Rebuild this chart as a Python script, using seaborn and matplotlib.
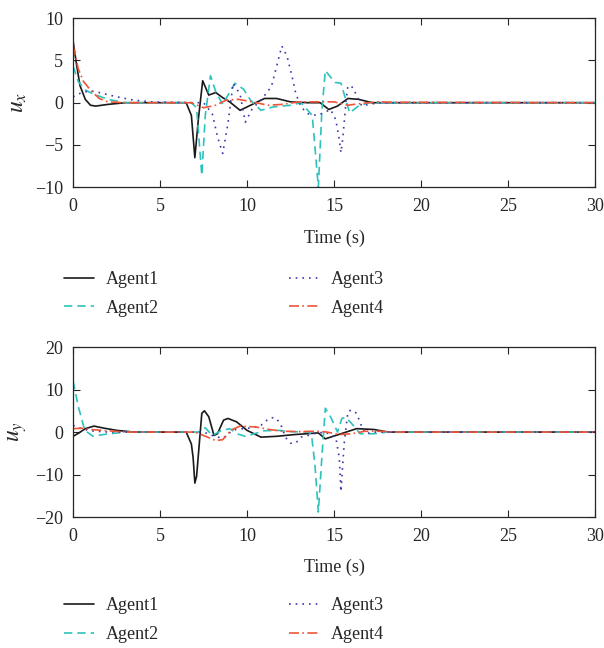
import matplotlib; matplotlib.use('Agg')
import numpy as np
import seaborn as sns
import matplotlib.pyplot as plt

# ---- u_x panel ----
ux_t1 = [0, 0.2, 0.4, 0.7, 1.0, 1.3, 2.0, 3.0, 6.5, 6.8, 7.0, 7.2, 7.45, 7.8, 8.2, 8.6, 9.0, 9.6,
         10.2, 11.0, 11.7, 12.5, 13.5, 14.2, 14.7, 15.2, 15.8, 16.4, 17.2, 30]
ux_v1 = [7.3, 4.5, 2.0, 0.4, -0.3, -0.4, -0.2, 0, 0, -1.5, -6.5, -2.0, 2.6, 0.9, 1.2, 0.6, 0.1, -0.9,
         -0.3, 0.5, 0.5, 0.1, 0, 0, -0.8, -0.4, 0.5, 0.4, 0, 0]

ux_t2 = [0, 0.3, 0.7, 1.2, 2.0, 3.0, 6.8, 7.1, 7.4, 7.6, 7.9, 8.2, 8.6, 9.3, 9.8, 10.2, 10.8, 11.5,
         12.5, 13.1, 13.75, 14.1, 14.3, 14.5, 15.05, 15.4, 15.9, 16.4, 17.0, 30]
ux_v2 = [4.3, 2.5, 1.5, 1.0, 0.4, 0, 0, -0.6, -8.6, -1.5, 3.2, 1.3, -0.2, 2.3, 1.6, 0.3, -0.9, -0.5,
         -0.3, 0, -1.5, -10, -1.0, 3.8, 2.4, 2.3, -1.2, -0.4, 0, 0]

ux_t3 = [0, 0.5, 1.0, 1.5, 2.5, 3.5, 4.5, 7.0, 7.5, 8.0, 8.3, 8.6, 8.9, 9.2, 9.6, 9.9, 10.3, 10.8,
         11.4, 11.7, 12.0, 12.3, 12.6, 12.8, 13.1, 13.5, 14.0, 14.4, 14.8, 15.1, 15.3, 15.4, 15.5,
         15.6, 15.7, 15.8, 16.1, 16.3, 16.6, 17.0, 17.6, 30]
ux_v3 = [0.7, 1.2, 1.4, 1.2, 0.7, 0.3, 0.1, 0, 0, -1.3, -4.0, -6.0, -2.5, 2.3, 1.0, -2.3, -0.7, 0.3,
         1.9, 4.3, 6.7, 5.5, 3.0, 1.1, -0.5, -1.3, -1.5, -1.2, -0.8, -2.0, -4.3, -5.9, -4.3,
         -2.0, 0.4, 2.0, 1.8, 0.8, -0.4, -0.2, 0, 0]

ux_t4 = [0, 0.3, 0.6, 1.0, 1.5, 2.0, 3.0, 6.8, 7.5, 8.2, 8.8, 9.5, 10.3, 11.2, 12.0, 13.0, 14.0,
         15.0, 15.8, 16.5, 17.5, 18.5, 30]
ux_v4 = [6.8, 4.0, 2.5, 1.5, 0.5, 0.1, 0, 0, -0.6, -0.3, 0.3, 0.4, 0.1, -0.3, -0.2, 0.1, 0.1,
         0.1, -0.3, -0.1, 0.1, 0.05, 0]

# ---- u_y panel ----
uy_t1 = [0, 0.3, 0.7, 1.2, 1.8, 2.5, 3.5, 6.5, 6.8, 6.9, 7.0, 7.1, 7.25, 7.4, 7.55, 7.8, 8.1, 8.3,
         8.65, 8.9, 9.4, 10.0, 10.8, 11.7, 12.7, 14.1, 14.5, 15.1, 15.7, 16.3, 17.3, 18.1, 30]
uy_v1 = [-1.0, -0.3, 0.8, 1.4, 0.9, 0.4, 0, 0, -2.8, -6.0, -12.0, -10.4, -3.0, 4.4, 5.0, 3.6, -0.8, -0.4,
         2.8, 3.2, 2.4, 0.4, -1.2, -1.0, -0.6, -0.2, -1.6, -0.8, 0, 0.8, 0.6, 0, 0]

uy_t2 = [0, 0.3, 0.67, 1.15, 1.7, 3.0, 7.2, 7.6, 8.0, 8.5, 9.0, 9.5, 9.9, 10.5, 11.0, 11.8, 12.5,
         13.5, 13.7, 13.9, 14.1, 14.3, 14.5, 14.8, 15.2, 15.45, 15.7, 16.1, 16.5, 17.3, 18.1, 30]
uy_v2 = [12.0, 6.0, 0.4, -1.0, -0.6, 0, 0, 1.0, -0.8, 0.3, 0.8, -0.5, -1.0, -0.3, 0.3, 0.4, 0.1,
         0, -0.4, -7.6, -18.8, -6.0, 5.6, 3.6, 0, 3.2, 3.4, 1.6, -0.4, -0.4, 0, 0]

uy_t3 = [0, 0.5, 1.0, 2.0, 7.5, 8.0, 8.6, 9.2, 9.8, 10.3, 10.8, 11.15, 11.4, 11.7, 12.0, 12.2, 12.5,
         12.8, 13.1, 13.5, 13.8, 14.5, 15.1, 15.3, 15.4, 15.5, 15.6, 15.8, 16.0, 16.3, 16.6, 16.8,
         17.3, 30]
uy_v3 = [1.6, 0.8, 0.3, 0, 0, -0.8, -1.5, 0.5, 0.8, 1.0, 1.6, 2.8, 3.4, 3.2, 1.2, -1.2, -2.6,
         -2.6, -1.2, -0.8, -0.4, 0, -1.2, -6.0, -14.0, -7.6, -2.0, 4.8, 5.2, 4.4, 1.2, -0.4,
         0, 0]

uy_t4 = [0, 0.5, 1.0, 2.0, 3.0, 7.0, 7.5, 8.2, 8.6, 9.1, 9.6, 10.5, 11.3, 12.0, 13.0, 14.0, 14.6,
         15.3, 16.0, 16.8, 17.5, 18.5, 30]
uy_v4 = [0.8, 0.9, 0.6, 0.3, 0, 0, -0.8, -2.0, -1.8, 0.5, 1.4, 1.2, 0.6, 0.2, 0.1, 0.2, 0,
         -0.6, -0.4, 0.2, 0.2, 0, 0]

agents = ['Agent1', 'Agent2', 'Agent3', 'Agent4']
colors = ['#1a1a1a', '#2ec2bc', '#3a3aa8', '#f0553a']
styles = ['-', (0, (5, 3)), (0, (1, 3)), (0, (6, 2, 1, 2))]

sns.set_style('ticks')
plt.rcParams['font.family'] = ['Liberation Serif', 'DejaVu Serif']
plt.rcParams['mathtext.fontset'] = 'stix'
plt.rcParams['font.size'] = 13

fig = plt.figure(figsize=(6.04, 6.48), dpi=100)
ax1 = fig.add_axes([0.121, 0.711, 0.864, 0.261])
ax2 = fig.add_axes([0.121, 0.202, 0.864, 0.2625])

panels = [
    (ax1, [(ux_t1, ux_v1), (ux_t2, ux_v2), (ux_t3, ux_v3), (ux_t4, ux_v4)], (-10, 10), [-10, -5, 0, 5, 10], '$u_x$', 0.582),
    (ax2, [(uy_t1, uy_v1), (uy_t2, uy_v2), (uy_t3, uy_v3), (uy_t4, uy_v4)], (-20, 20), [-20, -10, 0, 10, 20], '$u_y$', 0.078),
]

for ax, series, ylim, yticks, ylab, legy in panels:
    for (t, v), name, c, ls in zip(series, agents, colors, styles):
        sns.lineplot(x=np.array(t), y=np.array(v), ax=ax, color=c, linestyle=ls, lw=1.2, label=name)
    ax.set_xlim(0, 30)
    ax.set_ylim(*ylim)
    ax.set_xticks([0, 5, 10, 15, 20, 25, 30])
    ax.set_yticks(yticks)
    ax.set_xlabel('Time (s)', fontsize=13, labelpad=10)
    ax.set_ylabel(ylab, fontsize=17)
    ax.yaxis.set_label_coords(-0.084, 0.5)
    ax.tick_params(axis='x', pad=8)
    ax.tick_params(axis='y', pad=7)
    ax.tick_params(direction='in', top=True, right=True, length=5, labelsize=13, width=0.8)
    for sp in ax.spines.values():
        sp.set_linewidth(0.9)
    h, l = ax.get_legend_handles_labels()
    ax.legend(h, l, ncol=2, frameon=False, loc='upper left', bbox_to_anchor=(0.106, legy),
              bbox_transform=fig.transFigure, borderpad=0, borderaxespad=0,
              handlelength=1.66, handletextpad=0.66, columnspacing=7.2, labelspacing=0.66,
              fontsize=13)

plt.savefig('out.png', dpi=100)
plt.close()
